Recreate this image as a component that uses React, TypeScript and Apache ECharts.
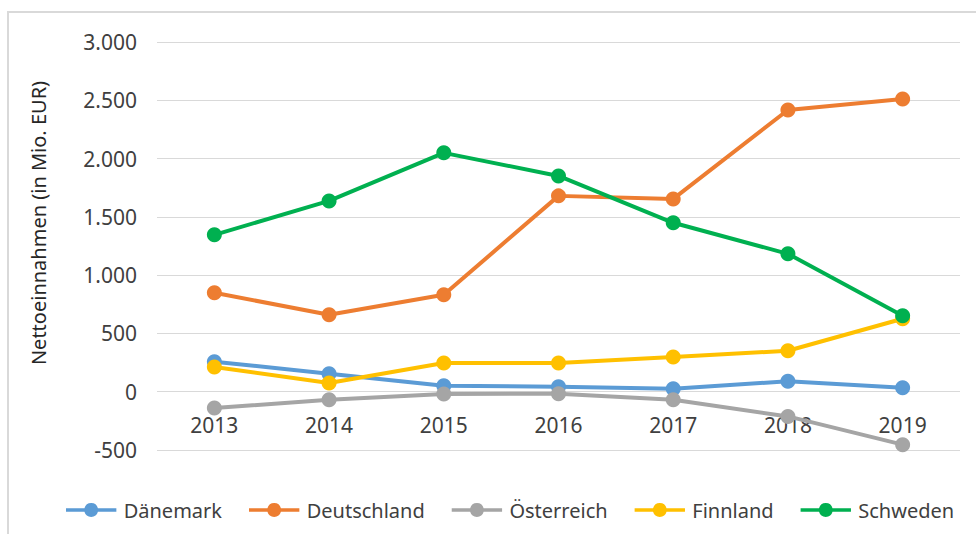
import React, { useEffect, useRef } from "react";
import * as echarts from "echarts";

const years = ["2013", "2014", "2015", "2016", "2017", "2018", "2019"];
const daenemark = [258, 154, 51, 42, 26, 90, 34];
const deutschland = [849, 660, 831, 1680, 1654, 2417, 2511];
const oesterreich = [-140, -69, -20, -17, -69, -212, -454];
const finnland = [212, 75, 246, 246, 297, 351, 626];
const schweden = [1346, 1637, 2049, 1851, 1449, 1183, 651];

const seriesDefs = [
  { name: "Dänemark", data: daenemark, color: "#5B9BD5" },
  { name: "Deutschland", data: deutschland, color: "#ED7D31" },
  { name: "Österreich", data: oesterreich, color: "#A5A5A5" },
  { name: "Finnland", data: finnland, color: "#FFC000" },
  { name: "Schweden", data: schweden, color: "#00B050" },
];

const FONT = "'Noto Sans', sans-serif";
const LEGEND_ICON =
  "path://M0,5.5 L19.77,5.5 A7.5,7.5 0 0 1 34.23,5.5 L54,5.5 L54,9.5 L34.23,9.5 A7.5,7.5 0 0 1 19.77,9.5 L0,9.5 Z";

export default function App() {
  const ref = useRef<HTMLDivElement>(null);
  useEffect(() => {
    if (!ref.current) return;
    const chart = echarts.init(ref.current, undefined, { renderer: "svg" });
    chart.setOption({
      animation: false,
      backgroundColor: "#ffffff",
      grid: { left: 157, right: 16, top: 42, bottom: 84 },
      graphic: [
        {
          type: "rect",
          shape: { x: 8, y: 12, width: 990, height: 560 },
          style: { fill: "none", stroke: "#d9d9d9", lineWidth: 2 },
          silent: true,
        },
        {
          type: "text",
          x: 38,
          y: 223,
          rotation: Math.PI / 2,
          style: {
            text: "Nettoeinnahmen (in Mio. EUR)",
            fill: "#262626",
            font: `20px ${FONT}`,
            align: "center",
            verticalAlign: "middle",
          },
        },
      ],
      legend: {
        left: 61,
        top: 495,
        itemWidth: 55,
        itemHeight: 14,
        itemGap: 27,
        icon: LEGEND_ICON,
        textStyle: { fontSize: 20, color: "#404040", fontFamily: FONT },
        data: seriesDefs.map((s) => s.name),
      },
      xAxis: {
        type: "category",
        data: years,
        boundaryGap: true,
        axisLine: { show: false },
        axisTick: { show: false },
        axisLabel: { fontSize: 21, color: "#404040", fontFamily: FONT, margin: -36 },
      },
      yAxis: {
        type: "value",
        min: -500,
        max: 3000,
        interval: 500,
        axisLine: { show: false },
        axisTick: { show: false },
        splitLine: { lineStyle: { color: "#d9d9d9", width: 1 } },
        axisLabel: {
          fontSize: 21,
          color: "#404040",
          fontFamily: FONT,
          margin: 20,
          formatter: (v: number) =>
            v === 0 ? "0" : (v < 0 ? "-" : "") + Math.abs(v).toLocaleString("de-DE"),
        },
      },
      series: seriesDefs.map((s) => ({
        name: s.name,
        type: "line",
        data: s.data,
        symbol: "circle",
        symbolSize: 15,
        lineStyle: { width: 4, color: s.color },
        itemStyle: { color: s.color },
      })),
    });
    return () => chart.dispose();
  }, []);
  return (
    <div
      ref={ref}
      style={{ position: "fixed", left: 0, top: 0, width: 976, height: 534 }}
    />
  );
}
